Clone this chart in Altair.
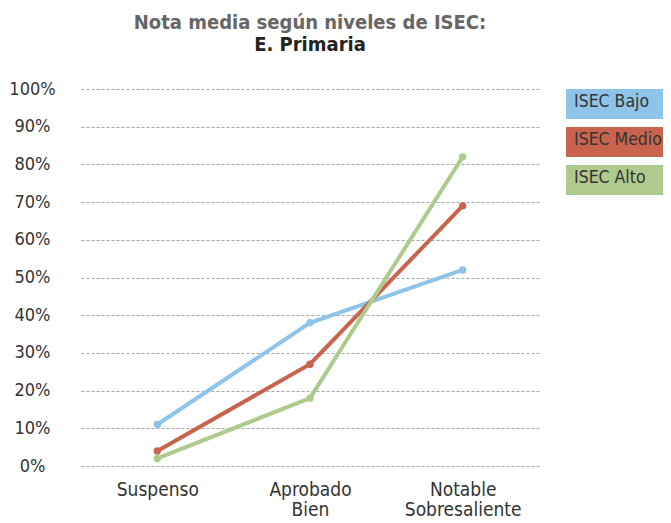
import altair as alt
import pandas as pd

categories = ["Suspenso", "Aprobado Bien", "Notable Sobresaliente"]
series = ["ISEC Bajo", "ISEC Medio", "ISEC Alto"]
bajo = [11, 38, 52]
medio = [4, 27, 69]
alto = [2, 18, 82]
colors = ["#8EC4EA", "#C8644E", "#AECA8C"]

rows = []
for s, vals in zip(series, [bajo, medio, alto]):
    for c, v in zip(categories, vals):
        rows.append({"cat": c, "serie": s, "valor": v / 100})
df = pd.DataFrame(rows)
leg = pd.DataFrame({"serie": series})

FONT = "Liberation Sans Narrow, DejaVu Sans Condensed, sans-serif"

color = alt.Color("serie:N", scale=alt.Scale(domain=series, range=colors), legend=None)

base = alt.Chart(df).encode(
    x=alt.X("cat:N", sort=categories, title=None,
            scale=alt.Scale(paddingInner=0, paddingOuter=0.5),
            axis=alt.Axis(labelAngle=0, domain=False, ticks=False, labelPadding=14,
                          labelExpr="split(datum.label, ' ')", labelLineHeight=20,
                          labelFontSize=19, labelFont=FONT, labelColor="#333333",
                          labelBaseline="top")),
    y=alt.Y("valor:Q", title=None,
            scale=alt.Scale(domain=[0, 1], nice=False),
            axis=alt.Axis(format="%", values=[i / 10 for i in range(11)], domain=False,
                          ticks=False, labelAlign="center", labelPadding=49,
                          labelFontSize=18, labelFont=FONT, labelColor="#333333",
                          grid=True, gridDash=[3, 2], gridColor="#a5a5a5", gridWidth=1)),
    color=color,
)

lines = base.mark_line(strokeWidth=4)
points = base.mark_circle(size=55, opacity=1)

main = alt.layer(lines, points).properties(
    width=458, height=377,
    title=alt.TitleParams(
        text="Nota media según niveles de ISEC:",
        subtitle="E. Primaria",
        font=FONT, fontSize=20, fontWeight="bold", color="#666666",
        subtitleFont=FONT, subtitleFontSize=20, subtitleFontWeight="bold",
        subtitleColor="#222222", subtitlePadding=2, anchor="middle", offset=25,
    ),
)

lbase = alt.Chart(leg).encode(
    y=alt.Y("serie:N", sort=series, axis=None,
            scale=alt.Scale(paddingInner=0.21, paddingOuter=0)),
)
lrect = lbase.mark_rect().encode(color=color)
ltext = lbase.mark_text(align="left", baseline="middle", dx=8, dy=-2, fontSize=17.5,
                        font=FONT, color="#333333").encode(x=alt.value(0), text="serie:N")
legend = alt.layer(lrect, ltext).properties(width=97, height=106)

chart = alt.hconcat(main, legend, spacing=27, bounds="flush").properties(
    padding={"left": 0, "top": 5, "right": 0, "bottom": 0}
).configure_view(stroke=None)

chart.save("out.html", embed_options={"renderer": "svg", "actions": False})
